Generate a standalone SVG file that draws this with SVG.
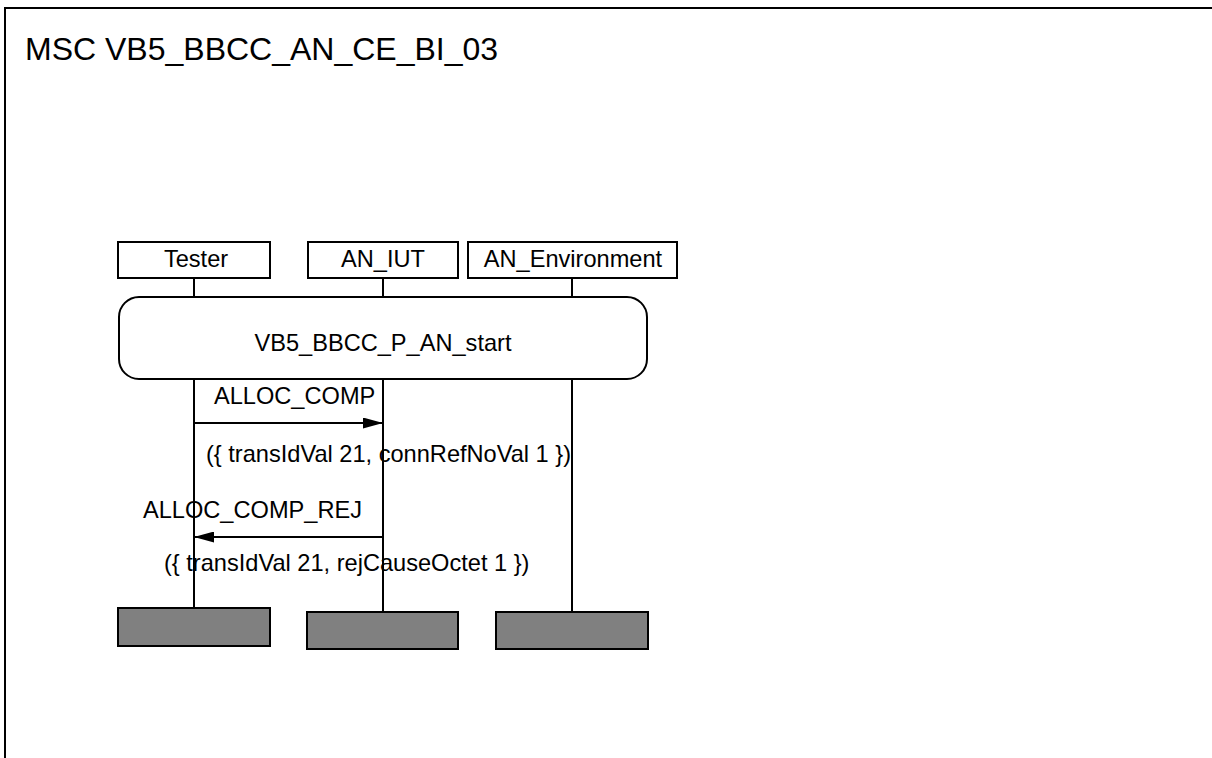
<svg xmlns="http://www.w3.org/2000/svg" width="1212" height="758" viewBox="0 0 1212 758">
<defs>
<style>
.t{font-family:"Liberation Sans",Arial,sans-serif;font-size:23.6px;fill:#000}
.box{fill:#fff;stroke:#000;stroke-width:2}
.end{fill:#808080;stroke:#000;stroke-width:2}
.ln{stroke:#000;stroke-width:2;fill:none}
</style>
<marker id="ah" markerWidth="20" markerHeight="11" refX="20" refY="5.5" orient="auto" markerUnits="userSpaceOnUse">
<path d="M0,0 L20,5.5 L0,11 Z" fill="#000"/>
</marker>
</defs>
<rect x="0" y="0" width="1212" height="758" fill="#fff"/>
<g id="frame">
<path d="M5,766 V8 H1220" class="ln" stroke-width="3"/>
<text class="t" x="25" y="60" style="font-size:32px">MSC VB5_BBCC_AN_CE_BI_03</text>
</g>
<g id="lifelines">
<line class="ln" x1="194" y1="278" x2="194" y2="297"/>
<line class="ln" x1="383" y1="278" x2="383" y2="297"/>
<line class="ln" x1="572" y1="278" x2="572" y2="297"/>
<line class="ln" x1="194" y1="379" x2="194" y2="608"/>
<line class="ln" x1="383" y1="379" x2="383" y2="612"/>
<line class="ln" x1="572" y1="379" x2="572" y2="612"/>
</g>
<g id="Tester">
<rect class="box" x="118" y="242" width="152" height="36"/>
<text class="t" x="196" y="267" text-anchor="middle">Tester</text>
<rect class="end" x="118" y="608" width="152" height="38"/>
</g>
<g id="AN_IUT">
<rect class="box" x="308" y="242" width="150" height="36"/>
<text class="t" x="383" y="267" text-anchor="middle">AN_IUT</text>
<rect class="end" x="307" y="612" width="151" height="37"/>
</g>
<g id="AN_Environment">
<rect class="box" x="468" y="242" width="209" height="36"/>
<text class="t" x="573" y="267" text-anchor="middle">AN_Environment</text>
<rect class="end" x="496" y="612" width="152" height="37"/>
</g>
<g id="ref">
<rect class="box" x="119" y="297" width="528" height="82" rx="20" ry="20"/>
<text class="t" x="383" y="351" text-anchor="middle">VB5_BBCC_P_AN_start</text>
</g>
<g id="connectors">
<line class="ln" x1="194" y1="423" x2="383" y2="423" marker-end="url(#ah)"/>
<line class="ln" x1="383" y1="537" x2="194" y2="537" marker-end="url(#ah)"/>
<text class="t" x="214" y="404">ALLOC_COMP</text>
<text class="t" x="206" y="462">({ transIdVal 21, connRefNoVal 1 })</text>
<text class="t" x="143" y="518">ALLOC_COMP_REJ</text>
<text class="t" x="164" y="571">({ transIdVal 21, rejCauseOctet 1 })</text>
</g>
</svg>
